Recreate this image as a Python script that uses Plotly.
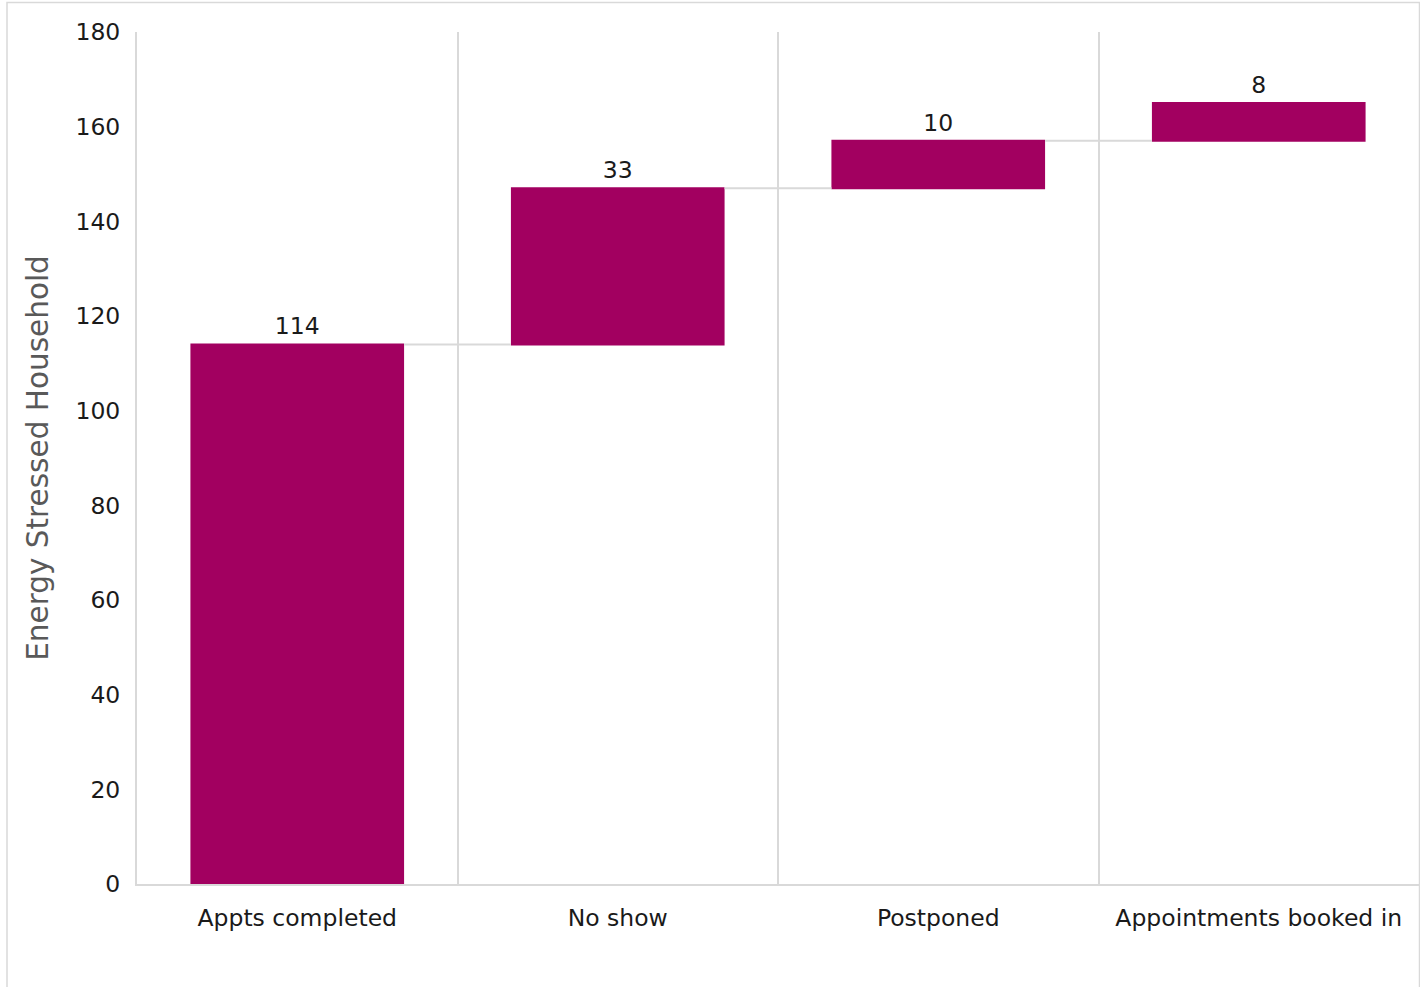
import plotly.graph_objects as go

categories = ["Appts completed", "No show", "Postponed", "Appointments booked in"]
values = [114, 33, 10, 8]
measures = ["absolute", "relative", "relative", "relative"]
y_ticks = [0, 20, 40, 60, 80, 100, 120, 140, 160, 180]

BAR = "#A20060"
GRID = "#D9D9D9"
FONT = "DejaVu Sans, Verdana, sans-serif"

fig = go.Figure(go.Waterfall(
    x=categories,
    y=values,
    measure=measures,
    text=[str(v) for v in values],
    textposition="outside",
    textfont=dict(family=FONT, size=23.5, color="#1a1a1a"),
    increasing=dict(marker=dict(color=BAR, line=dict(width=0))),
    decreasing=dict(marker=dict(color=BAR, line=dict(width=0))),
    totals=dict(marker=dict(color=BAR, line=dict(width=0))),
    connector=dict(line=dict(color=GRID, width=2)),
    cliponaxis=False,
    showlegend=False,
))

fig.update_layout(
    width=1420, height=987,
    margin=dict(l=137, r=1, t=32, b=103),
    paper_bgcolor="white", plot_bgcolor="white",
    waterfallgap=1/3,
    font=dict(family=FONT, size=23.5, color="#1a1a1a"),
    xaxis=dict(
        type="category",
        tickson="boundaries",
        showgrid=True, gridcolor=GRID, gridwidth=2,
        showline=True, linecolor=GRID, linewidth=2,
        ticks="", ticklabelstandoff=12,
        tickfont=dict(family=FONT, size=23.5, color="#1a1a1a"),
        zeroline=False,
    ),
    yaxis=dict(
        range=[0, 180],
        tickvals=y_ticks,
        showgrid=False,
        showline=True, linecolor=GRID, linewidth=2,
        ticks="", ticklabelstandoff=10,
        tickfont=dict(family=FONT, size=23.5, color="#1a1a1a"),
        zeroline=False,
        title=dict(text="Energy Stressed Household",
                   font=dict(family=FONT, size=29.5, color="#595959"),
                   standoff=18),
    ),
    shapes=[dict(type="rect", xref="paper", yref="paper",
                 x0=(7 - 137) / 1282, x1=(1419.5 - 137) / 1282,
                 y0=(884 - 990) / 852, y1=(884 - 2.5) / 852,
                 line=dict(color=GRID, width=1.5), fillcolor="rgba(0,0,0,0)",
                 layer="below")],
)

fig.write_html("out.html")
